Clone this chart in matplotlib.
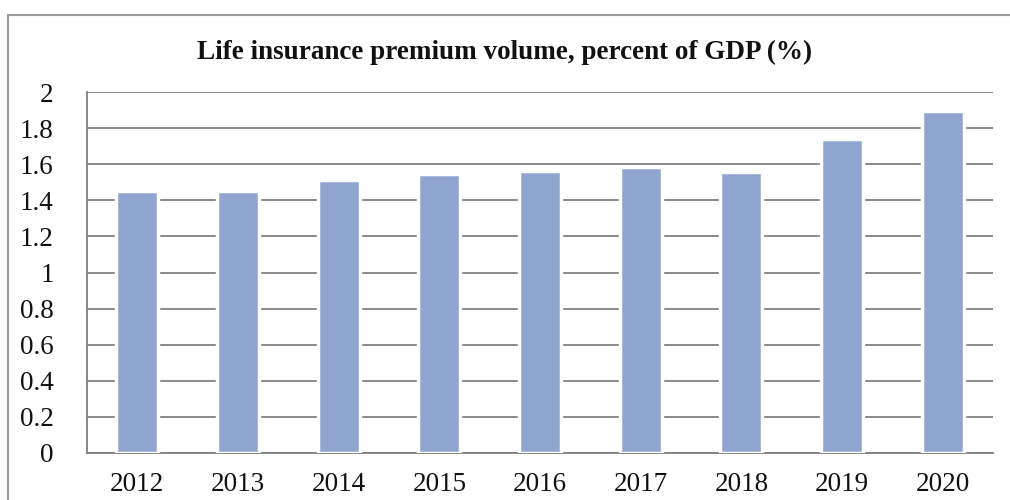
import matplotlib.pyplot as plt
from matplotlib.patches import Rectangle

years = ["2012", "2013", "2014", "2015", "2016", "2017", "2018", "2019", "2020"]
premium_pct_gdp = [1.45, 1.45, 1.51, 1.545, 1.565, 1.585, 1.555, 1.74, 1.895]
y_ticks = [0, 0.2, 0.4, 0.6, 0.8, 1, 1.2, 1.4, 1.6, 1.8, 2]
y_labels = ["0", "0.2", "0.4", "0.6", "0.8", "1", "1.2", "1.4", "1.6", "1.8", "2"]

plt.rcParams['font.family'] = ['Liberation Serif', 'DejaVu Serif']

fig = plt.figure(figsize=(10.1, 5.0), dpi=100)
fig.patch.set_facecolor("white")

# outer chart frame
fig.patches.append(Rectangle((8 / 1010, -0.02), 1.1, 1 - 15 / 500 + 0.02,
                             transform=fig.transFigure, fill=False,
                             edgecolor="#9a9a9a", lw=1.5))

ax = fig.add_axes([87 / 1010, 47 / 500, 906 / 1010, 361 / 500])
x = range(len(years))
ax.bar(x, premium_pct_gdp, width=0.42, color="#8fa5cf", edgecolor="white",
       linewidth=2.5, zorder=3)

ax.set_xlim(-0.5, len(years) - 0.5)
ax.set_ylim(0, 2)
ax.set_yticks(y_ticks)
ax.set_yticklabels(y_labels)
ax.set_xticks(list(x))
ax.set_xticklabels(years)
ax.tick_params(axis="both", length=0, labelsize=19.5, colors="#111111")
ax.tick_params(axis="y", pad=24)
ax.tick_params(axis="x", pad=14)
ax.grid(axis="y", color="#7f7f7f", lw=1.3, zorder=0)
for s in ["top", "right"]:
    ax.spines[s].set_visible(False)
for s in ["left", "bottom"]:
    ax.spines[s].set_color("#7f7f7f")
    ax.spines[s].set_linewidth(1.3)

fig.text(0.5, 1 - 52 / 500, "Life insurance premium volume, percent of GDP (%)",
         ha="center", va="center", fontsize=19.5, fontweight="bold", color="#111111")

fig.savefig("out.png", dpi=100, facecolor="white")
